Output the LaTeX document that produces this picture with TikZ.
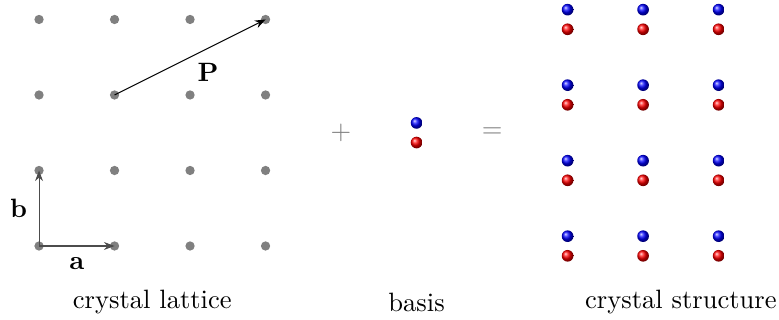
\documentclass[tikz,border=0pt]{standalone}
\usetikzlibrary{arrows.meta,positioning}

\begin{document}
\begin{tikzpicture}[
    site/.style={circle, fill=gray, inner sep=0pt, minimum size=3.5pt},
    atom/.style={circle, shading=ball, ball color=#1, inner sep=0pt, minimum size=4.4pt},
    vec/.style={-{Stealth[length=4pt,width=3pt]}},
    caption/.style={anchor=base}
]
\useasboundingbox (-0.517,-0.98) rectangle (9.80,3.258);
% crystal lattice
\foreach \i in {0,...,3}
  \foreach \j in {0,...,3}
    \node[site] (s\i\j) at (\i,\j) {};
\draw[vec, draw=black!70] (s00.center) -- (s10.center) node[midway, below=1pt, text=black] (la) {$\mathbf{a}$};
\draw[vec, draw=black!70] (s00.center) -- (s01.center) node[midway, left=1pt, text=black] (lb) {$\mathbf{b}$};
\draw[vec] (s12.center) -- (s33.center) node[pos=0.62, below=2pt] (lP) {$\mathbf{P}$};
\node[caption] (clat) at (1.5,-0.83) {crystal lattice};

% basis
\node[text=gray] (plus) at (4,1.5) {$+$};
\node[atom=blue] (bb) at (5,1.63) {};
\node[atom=red] (br) at (5,1.37) {};
\node[text=gray] (eq) at (6,1.5) {$=$};
\node[caption] (cbas) at (5,-0.87) {basis};

% crystal structure
\foreach \i in {0,...,2}
  \foreach \j in {0,...,3} {
    \node[atom=blue] (cb\i\j) at (7+\i,\j+0.13) {};
    \node[atom=red] (cr\i\j) at (7+\i,\j-0.13) {};
  }
\node[caption] (cstr) at (8.5,-0.83) {crystal structure};
\end{tikzpicture}
\end{document}
